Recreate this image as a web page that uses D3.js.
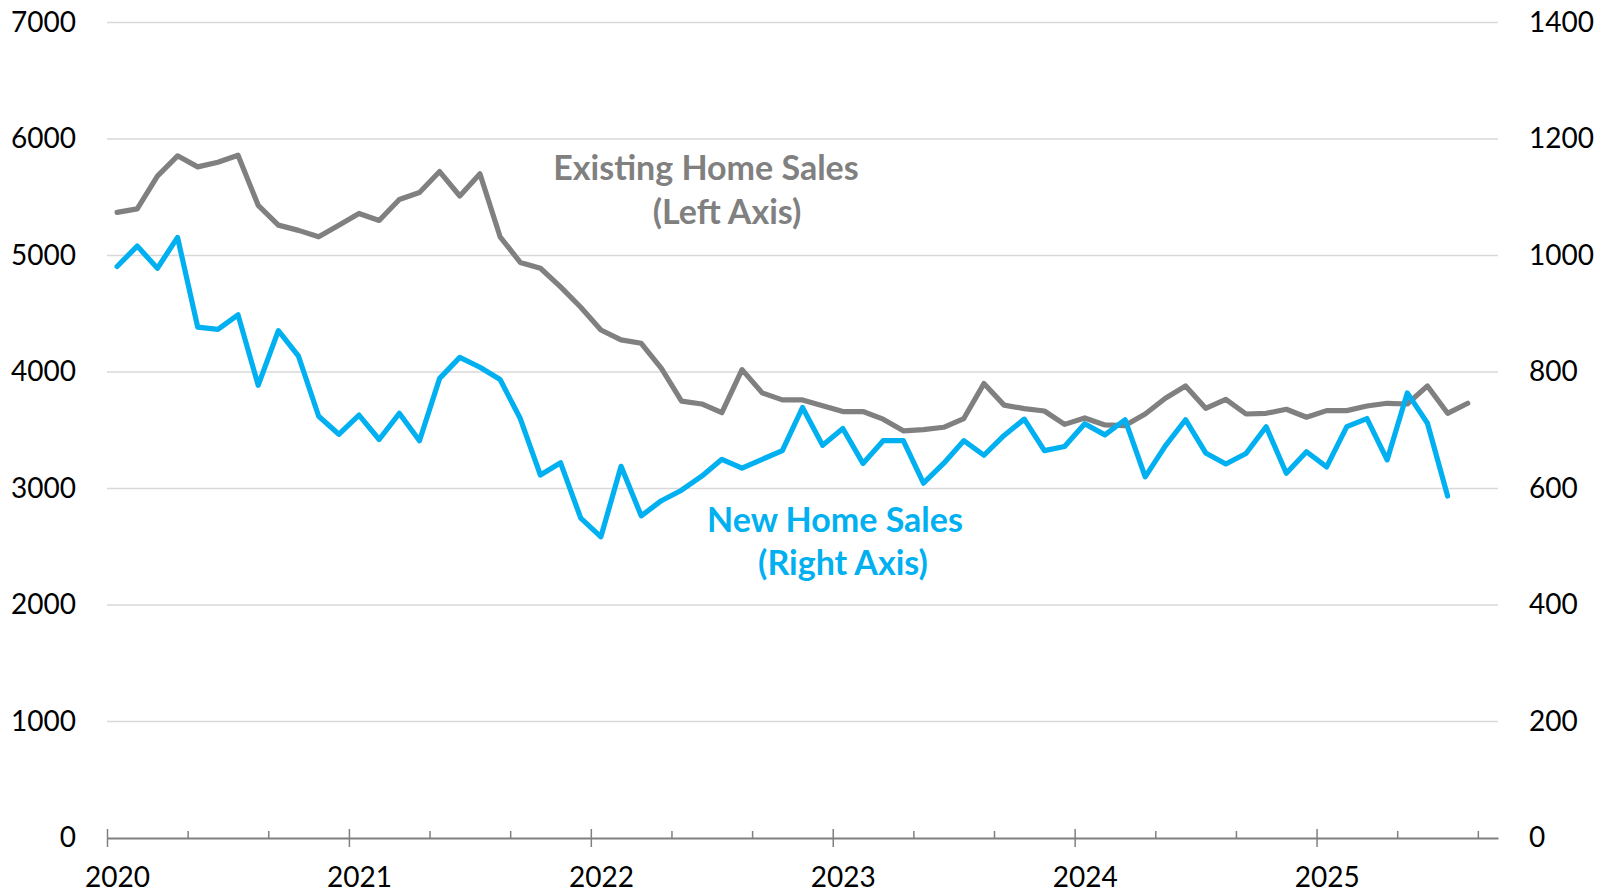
<!DOCTYPE html>
<html>
<head>
<meta charset="utf-8">
<script src="https://cdn.jsdelivr.net/npm/d3@7"></script>
<style>
    body { margin: 0; background: #fff; }
    svg { display: block; font-family: Lato, "Open Sans", sans-serif; }
    .grid line { stroke: #d9d9d9; stroke-width: 1.5; }
    .axis text { font-size: 28px; fill: #000; }
    .line { fill: none; stroke-width: 5.2; stroke-linejoin: round; stroke-linecap: round; }
    .note { font-weight: bold; font-size: 34px; text-anchor: middle; }
</style>
</head>
<body>
<div id="chart"></div>
<script>
// monthly, starting Jan 2020
var startYear = 2020;
var yearTicks = [2020, 2021, 2022, 2023, 2024, 2025];
var leftTicks = [0, 1000, 2000, 3000, 4000, 5000, 6000, 7000];
var rightTicks = [0, 200, 400, 600, 800, 1000, 1200, 1400];

// Existing home sales, thousands (left axis), Jan 2020 - Aug 2025
var existingSales = [5370, 5400, 5680, 5855, 5760, 5800, 5860, 5430, 5260, 5215, 5160, 5260,
    5360, 5300, 5480, 5540, 5720, 5510, 5700, 5160, 4940, 4890, 4730, 4555,
    4360, 4275, 4246, 4030, 3750, 3725, 3650, 4020, 3820, 3760, 3760, 3710,
    3660, 3660, 3595, 3495, 3505, 3525, 3600, 3900, 3715, 3685, 3665, 3550,
    3605, 3545, 3540, 3639, 3774, 3880, 3688, 3765, 3639, 3645, 3680, 3611,
    3668, 3668, 3708, 3731, 3725, 3880, 3645, 3731];

// New home sales, thousands (right axis), Jan 2020 - Jul 2025
var newSales = [981, 1016, 978, 1031, 877, 873, 898, 777, 871, 827, 724, 693,
    726, 684, 729, 682, 789, 825, 808, 787, 720, 623, 644, 549,
    517, 638, 553, 579, 597, 621, 650, 635, 650, 665, 739, 674,
    703, 643, 682, 682, 609, 643, 682, 657, 691, 719, 665, 672,
    711, 692, 718, 620, 673, 718, 661, 642, 660, 706, 626, 663,
    637, 706, 720, 649, 764, 712, 587];

var width = 1598, height = 893;
var plotLeft = 107, plotRight = 1498, plotTop = 22.4, plotBottom = 838;

var svg = d3.select("#chart").append("svg")
    .attr("width", width)
    .attr("height", height);

// x in months since Jan 2020
var x = d3.scaleLinear().domain([0, 69]).range([plotLeft, plotRight]);
var yL = d3.scaleLinear().domain([0, 7000]).range([plotBottom, plotTop]);
var yR = d3.scaleLinear().domain([0, 1400]).range([plotBottom, plotTop]);

// gridlines
svg.append("g")
    .attr("class", "grid")
    .selectAll("line")
    .data(leftTicks.slice(1))
    .enter().append("line")
    .attr("x1", plotLeft)
    .attr("x2", plotRight)
    .attr("y1", function (d) { return yL(d); })
    .attr("y2", function (d) { return yL(d); });

// left axis labels
var gL = svg.append("g")
    .attr("class", "axis")
    .attr("transform", "translate(" + (plotLeft - 31) + ",0)")
    .call(d3.axisLeft(yL).tickValues(leftTicks).tickSize(0).tickPadding(0).tickFormat(d3.format("d")));
gL.select(".domain").remove();
gL.attr("font-family", null).attr("font-size", null);

// right axis labels
var gR = svg.append("g")
    .attr("class", "axis")
    .attr("transform", "translate(" + (plotRight + 31) + ",0)")
    .call(d3.axisRight(yR).tickValues(rightTicks).tickSize(0).tickPadding(0).tickFormat(d3.format("d")));
gR.select(".domain").remove();
gR.attr("font-family", null).attr("font-size", null);

// minor ticks every 4 months
var minorTicks = d3.range(0, 69, 4).filter(function (m) { return m % 12 !== 0; });
var gMinor = svg.append("g")
    .attr("transform", "translate(0," + plotBottom + ")")
    .call(d3.axisTop(x).tickValues(minorTicks).tickSize(7).tickFormat(""));
gMinor.select(".domain").remove();
gMinor.selectAll("line").attr("stroke", "#808080").attr("stroke-width", 1.5);

// bottom axis with year ticks crossing the line
var gX = svg.append("g")
    .attr("class", "axis")
    .attr("transform", "translate(0," + plotBottom + ")")
    .call(d3.axisBottom(x)
        .tickValues(yearTicks.map(function (y) { return (y - startYear) * 12; }))
        .tickSizeInner(9).tickSizeOuter(0).tickPadding(20)
        .tickFormat(function (d) { return startYear + d / 12; }));
gX.attr("font-family", null).attr("font-size", null);
gX.select(".domain").attr("stroke", "#808080").attr("stroke-width", 2);
gX.selectAll("line").attr("stroke", "#808080").attr("stroke-width", 1.5).attr("y1", -9);
gX.selectAll("text").attr("x", (x(1) - x(0)) / 2);

// lines, points at mid-month
var lineL = d3.line()
    .x(function (d, i) { return x(i + 0.5); })
    .y(function (d) { return yL(d); });
var lineR = d3.line()
    .x(function (d, i) { return x(i + 0.5); })
    .y(function (d) { return yR(d); });

svg.append("path")
    .attr("class", "line")
    .attr("stroke", "#808080")
    .attr("d", lineL(existingSales));

svg.append("path")
    .attr("class", "line")
    .attr("stroke", "#00b0f0")
    .attr("d", lineR(newSales));

// annotations
svg.append("text").attr("class", "note").attr("fill", "#808080")
    .attr("x", 706).attr("y", 180).text("Existing Home Sales");
svg.append("text").attr("class", "note").attr("fill", "#808080")
    .attr("x", 727).attr("y", 224).text("(Left Axis)");
svg.append("text").attr("class", "note").attr("fill", "#00b0f0")
    .attr("x", 835).attr("y", 532).text("New Home Sales");
svg.append("text").attr("class", "note").attr("fill", "#00b0f0")
    .attr("x", 843).attr("y", 575).text("(Right Axis)");
</script>
</body>
</html>
